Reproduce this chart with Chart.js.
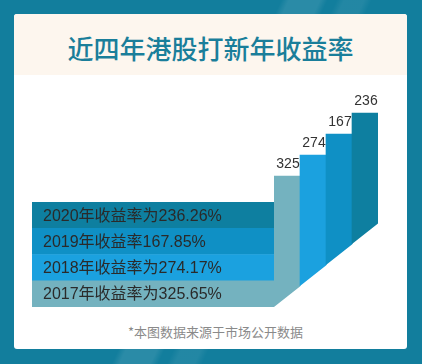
<!DOCTYPE html>
<html><head><meta charset="utf-8">
<script src="https://cdn.jsdelivr.net/npm/chart.js@4/dist/chart.umd.min.js"></script>
<style>
html,body{margin:0;padding:0;}
body{width:422px;height:364px;position:relative;overflow:hidden;background:#127e9d;
  font-family:"Noto Sans CJK SC","Liberation Sans",sans-serif;}
#stripes{position:absolute;left:0;top:0;width:422px;height:364px;
  background:linear-gradient(115deg, rgba(255,255,255,0) 0px, rgba(255,255,255,0) 255px, rgba(255,255,255,0.10) 262px, rgba(255,255,255,0.10) 290px, rgba(255,255,255,0) 297px, rgba(255,255,255,0) 305px, rgba(255,255,255,0.07) 312px, rgba(255,255,255,0.07) 330px, rgba(255,255,255,0) 337px);}
#card{position:absolute;left:14px;top:14px;width:393px;height:335px;background:#fff;border-radius:3px;overflow:hidden;}
#banner{position:absolute;left:0;top:0;width:393px;height:61px;background:#fdf6ee;}
#title{position:absolute;left:0;top:17px;width:393px;text-align:center;font-size:26px;line-height:34px;
  color:#1a7e9a;font-weight:500;white-space:nowrap;}
#footer{position:absolute;left:128px;top:324px;font-size:13px;line-height:16px;color:#8a8a8a;white-space:nowrap;}
#wrapH{position:absolute;left:32px;top:202px;width:242px;height:105px;}
#wrapV{position:absolute;left:274px;top:85px;width:104px;height:222px;}
</style></head>
<body>
<div id="stripes"></div>
<div id="card"><div id="banner"><div id="title">近四年港股打新年收益率</div></div></div>
<div id="wrapH"><canvas id="chartH" width="242" height="105"></canvas></div>
<div id="wrapV"><canvas id="chartV" width="104" height="222"></canvas></div>
<div id="footer">*本图数据来源于市场公开数据</div>
<script>
// ---- data ----
const rowLabels = ['2020年收益率为236.26%', '2019年收益率167.85%', '2018年收益率为274.17%', '2017年收益率为325.65%'];
const bandLengths = [100, 100, 100, 100];
const years = ['2017', '2018', '2019', '2020'];
const columnLabels = ['325', '274', '167', '236'];
const columnRanges = [[0, 131], [21, 152], [42, 173], [63, 194]];

// ---- styles ----
const rowColors = ['#0e7fa0', '#0f90c5', '#1ba1df', '#74b2bf'];
const colColors = ['#74b2bf', '#1ba1df', '#0f90c5', '#0e7fa0'];

Chart.defaults.devicePixelRatio = 1;

const rowText = {
  id: 'rowText',
  afterDatasetsDraw(chart) {
    const ctx = chart.ctx;
    const meta = chart.getDatasetMeta(0);
    ctx.save();
    ctx.font = '16px "Liberation Sans", "Noto Sans CJK SC", sans-serif';
    ctx.fillStyle = '#2a2a2a';
    ctx.textAlign = 'left';
    ctx.textBaseline = 'middle';
    meta.data.forEach((e, i) => {
      ctx.fillText(chart.data.labels[i], chart.chartArea.left + 11, e.y + 1);
    });
    ctx.restore();
  }
};

new Chart(document.getElementById('chartH'), {
  type: 'bar',
  data: { labels: rowLabels, datasets: [{ data: bandLengths, backgroundColor: rowColors, borderWidth: 0,
    categoryPercentage: 1, barPercentage: 1 }] },
  options: {
    indexAxis: 'y', responsive: false, animation: false,
    layout: { padding: 0 },
    plugins: { legend: { display: false }, tooltip: { enabled: false }, title: { display: false } },
    scales: { x: { display: false, min: 0, max: 100 }, y: { display: false } }
  },
  plugins: [rowText]
});

const slantClip = {
  id: 'slantClip',
  beforeDatasetsDraw(chart) {
    const ctx = chart.ctx;
    const meta = chart.getDatasetMeta(0);
    const ys = chart.scales.y;
    ctx.save();
    ctx.beginPath();
    meta.data.forEach((e, i) => {
      const base = columnRanges[i][0];
      const nextBase = i + 1 < columnRanges.length ? columnRanges[i + 1][0]
        : base + (base - columnRanges[i - 1][0]);
      const l = e.x - e.width / 2, r = e.x + e.width / 2;
      ctx.moveTo(l, 0);
      ctx.lineTo(r + 0.6, 0);
      ctx.lineTo(r + 0.6, ys.getPixelForValue(nextBase));
      ctx.lineTo(l, ys.getPixelForValue(base));
      ctx.closePath();
    });
    ctx.clip();
  },
  afterDatasetsDraw(chart) {
    const ctx = chart.ctx;
    ctx.restore();
    const meta = chart.getDatasetMeta(0);
    ctx.save();
    ctx.font = '14px "Liberation Sans", sans-serif';
    ctx.fillStyle = '#333333';
    ctx.textAlign = 'center';
    ctx.textBaseline = 'bottom';
    meta.data.forEach((e, i) => {
      ctx.fillText(columnLabels[i], e.x + 1, e.y - 5);
    });
    ctx.restore();
  }
};

new Chart(document.getElementById('chartV'), {
  type: 'bar',
  data: { labels: years, datasets: [{ data: columnRanges, backgroundColor: colColors, borderWidth: 0,
    categoryPercentage: 1, barPercentage: 1 }] },
  options: {
    responsive: false, animation: false,
    layout: { padding: 0 },
    plugins: { legend: { display: false }, tooltip: { enabled: false } },
    scales: { x: { display: false }, y: { display: false, min: 0, max: 222 } }
  },
  plugins: [slantClip]
});
</script>
</body></html>
